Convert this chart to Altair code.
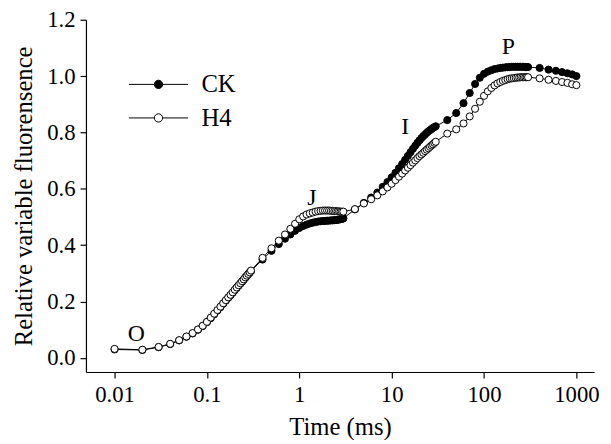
import altair as alt
import pandas as pd

# sampling times (ms)
t_a = [round(0.01 * i, 2) for i in range(1, 31)]
t_b = [round(0.1 * i, 1) for i in range(4, 31)]
t_c = list(range(4, 31))
t_d = list(range(40, 301, 10))
t_e = list(range(400, 1001, 100))
times = t_a + t_b + t_c + t_d + t_e

ck_a = [0.030, 0.028, 0.038, 0.049, 0.062, 0.075, 0.087, 0.100, 0.113, 0.127,
        0.141, 0.155, 0.168, 0.180, 0.192, 0.203, 0.213, 0.222, 0.231, 0.240,
        0.248, 0.256, 0.263, 0.270, 0.277, 0.284, 0.290, 0.296, 0.302, 0.308]
h4_a = [0.032, 0.029, 0.039, 0.050, 0.063, 0.076, 0.088, 0.101, 0.114, 0.128,
        0.143, 0.157, 0.170, 0.182, 0.194, 0.205, 0.215, 0.224, 0.233, 0.242,
        0.250, 0.258, 0.265, 0.272, 0.279, 0.286, 0.292, 0.298, 0.304, 0.310]
ck_b = [0.349, 0.380, 0.404, 0.423, 0.438, 0.451, 0.461, 0.468, 0.473, 0.477,
        0.480, 0.482, 0.484, 0.485, 0.486, 0.486, 0.487, 0.487, 0.488, 0.488,
        0.489, 0.489, 0.490, 0.491, 0.492, 0.493, 0.495]
h4_b = [0.355, 0.389, 0.416, 0.438, 0.458, 0.476, 0.492, 0.502, 0.509, 0.513,
        0.516, 0.519, 0.521, 0.522, 0.523, 0.523, 0.523, 0.523, 0.522, 0.522,
        0.521, 0.521, 0.520, 0.520, 0.519, 0.519, 0.519]
ck_c = [0.527, 0.550, 0.569, 0.587, 0.607, 0.624, 0.641, 0.657, 0.673, 0.688,
        0.703, 0.717, 0.730, 0.742, 0.753, 0.763, 0.772, 0.780, 0.787, 0.793,
        0.799, 0.804, 0.808, 0.812, 0.816, 0.819, 0.822]
h4_c = [0.528, 0.548, 0.563, 0.577, 0.591, 0.605, 0.618, 0.631, 0.643, 0.654,
        0.665, 0.675, 0.684, 0.693, 0.701, 0.709, 0.716, 0.722, 0.728, 0.734,
        0.739, 0.744, 0.749, 0.754, 0.758, 0.763, 0.767]
ck_d = [0.844, 0.869, 0.904, 0.940, 0.972, 0.994, 1.008, 1.016, 1.021, 1.025,
        1.027, 1.029, 1.030, 1.031, 1.032, 1.032, 1.033, 1.033, 1.033, 1.033,
        1.033, 1.033, 1.033, 1.033, 1.032, 1.032, 1.032]
h4_d = [0.796, 0.811, 0.832, 0.857, 0.884, 0.909, 0.930, 0.946, 0.958, 0.967,
        0.974, 0.979, 0.983, 0.986, 0.989, 0.991, 0.992, 0.993, 0.994, 0.995,
        0.995, 0.996, 0.996, 0.996, 0.996, 0.996, 0.996]
ck_e = [1.029, 1.023, 1.019, 1.014, 1.010, 1.006, 1.000]
h4_e = [0.992, 0.987, 0.983, 0.979, 0.976, 0.971, 0.968]

ck = ck_a + ck_b + ck_c + ck_d + ck_e
h4 = h4_a + h4_b + h4_c + h4_d + h4_e

phase_labels = ["O", "J", "I", "P"]
phase_times = [0.0172, 1.37, 14.0, 183.0]
phase_values = [0.085, 0.568, 0.818, 1.102]

series_names = ["CK", "H4"]

df = pd.DataFrame({
    "time": times * 2,
    "value": ck + h4,
    "series": ["CK"] * len(times) + ["H4"] * len(times),
})
ann = pd.DataFrame({"label": phase_labels, "time": phase_times, "value": phase_values})

FONT = "Liberation Serif"

xscale = alt.Scale(type="log", domain=[0.0049, 1556], nice=False)
yscale = alt.Scale(domain=[-0.05, 1.2], nice=False, zero=False)

xaxis = alt.Axis(values=[0.01, 0.1, 1, 10, 100, 1000], format="~g", title="Time (ms)",
                 grid=False, tickSize=6, labelPadding=6, titlePadding=8)
yaxis = alt.Axis(values=[0, 0.2, 0.4, 0.6, 0.8, 1.0, 1.2], format=".1f",
                 title="Relative variable fluorensence", grid=False, tickSize=6,
                 labelPadding=5, titlePadding=10)

legend_path = ("M -2 0 L -0.28 0 M 0.28 0 L 2 0 "
               "M 0.28 0 A 0.28 0.28 0 1 1 -0.28 0 A 0.28 0.28 0 1 1 0.28 0 Z")

layers = []
for name in series_names:
    sub = df[df["series"] == name]
    line = alt.Chart(sub).mark_line(color="black", strokeWidth=1).encode(
        x=alt.X("time:Q", scale=xscale, axis=xaxis),
        y=alt.Y("value:Q", scale=yscale, axis=yaxis),
    )
    pts = alt.Chart(sub).mark_point(filled=True, shape="circle", size=52,
                                    stroke="black", strokeWidth=1, opacity=1).encode(
        x=alt.X("time:Q", scale=xscale),
        y=alt.Y("value:Q", scale=yscale),
        fill=alt.Fill("series:N",
                      scale=alt.Scale(domain=series_names, range=["black", "white"]),
                      legend=alt.Legend(title=None, orient="none", legendX=58, legendY=50,
                                        symbolType=legend_path, symbolSize=900,
                                        symbolStrokeColor="black", symbolStrokeWidth=1,
                                        labelFont=FONT, labelFontSize=25, labelColor="black",
                                        labelOffset=28, rowPadding=5, padding=0)),
    )
    layers += [line, pts]

text = alt.Chart(ann).mark_text(font=FONT, fontSize=24, color="black",
                                baseline="middle", align="center").encode(
    x=alt.X("time:Q", scale=xscale),
    y=alt.Y("value:Q", scale=yscale),
    text="label:N",
)

chart = alt.layer(*layers, text).properties(
    width=515, height=357,
    autosize=alt.AutoSizeParams(type="none"),
    padding={"left": 79, "top": 9, "right": 9, "bottom": 66},
    background="white",
).configure_view(stroke=None).configure_axis(
    labelFont=FONT, titleFont=FONT, labelFontSize=23, titleFontSize=25,
    labelColor="black", titleColor="black", domainColor="black", tickColor="black",
    domainWidth=1.2, tickWidth=1.2, titleFontWeight="normal",
)

chart.save("out.html", embed_options={"renderer": "svg", "actions": False})
